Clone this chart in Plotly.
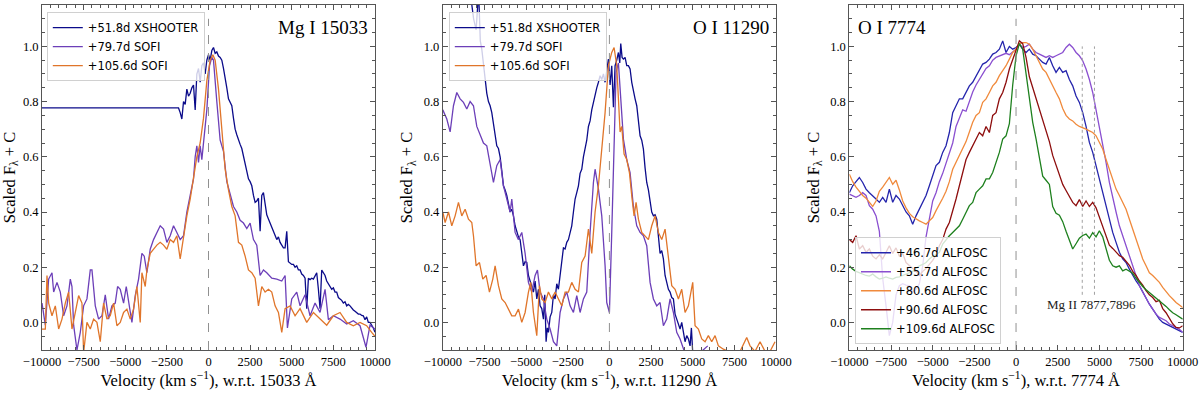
import plotly.graph_objects as go

# ---- Panel 1: Mg I 15033 ----
mg_xsh_v = [-10000, -1800, -1700, -1600, -1500, -1400, -1300, -1200, -1100, -1000, -900, -800, -700, -600, -500,
            -400, -300, -200, -100, 0, 100, 200, 300, 400, 500, 600, 700, 800, 900, 1000, 1100, 1200, 1300, 1400,
            1500, 1600, 1700, 1800, 1900, 2000, 2100, 2200, 2300, 2400, 2500, 2600, 2700, 2800, 2900, 3000, 3100,
            3200, 3300, 3400, 3500, 3600, 3700, 3800, 3900, 4000, 4100, 4200, 4300, 4400, 4500, 4600, 4700, 4800,
            4900, 5000, 5100, 5200, 5300, 5400, 5500, 5600, 5700, 5800, 5900, 6000, 6100, 6200, 6300, 6400, 6500,
            6600, 6700, 6800, 6900, 7000, 7100, 7200, 7300, 7400, 7500, 7600, 7700, 7800, 7900, 8000, 8100, 8200,
            8300, 8400, 8500, 8600, 8700, 8800, 8900, 9000, 9100, 9200, 9300, 9400, 9500, 9600, 9700, 9800, 9900,
            10000]
mg_xsh_f = [0.777, 0.777, 0.76, 0.737, 0.80, 0.79, 0.845, 0.82, 0.83, 0.85, 0.86, 0.77, 0.90, 0.92, 0.87,
            0.93, 0.94, 0.90, 0.95, 0.97, 0.95, 0.985, 0.996, 0.975, 0.98, 0.965, 0.96, 0.95, 0.92, 0.89, 0.85, 0.81,
            0.80, 0.785, 0.74, 0.70, 0.68, 0.66, 0.645, 0.63, 0.60, 0.57, 0.545, 0.52, 0.51, 0.495, 0.46, 0.435,
            0.44, 0.45, 0.33, 0.46, 0.47, 0.43, 0.39, 0.375, 0.36, 0.345, 0.33, 0.315, 0.30, 0.31, 0.29, 0.28,
            0.27, 0.27, 0.33, 0.22, 0.215, 0.21, 0.21, 0.20, 0.205, 0.19, 0.19, 0.175, 0.17, 0.16, 0.05, 0.16,
            0.155, 0.16, 0.157, 0.17, 0.18, 0.12, 0.05, 0.19, 0.18, 0.17, 0.15, 0.14, 0.13, 0.12, 0.125, 0.11,
            0.11, 0.09, 0.085, 0.08, 0.07, 0.075, 0.06, 0.065, 0.06, 0.05, 0.045, 0.04, 0.036, 0.03, 0.03, 0.025,
            0.024, 0.01, 0.02, 0.0, 0.0, -0.01, -0.02, -0.036]

mg_s79_v = [-10000, -9800, -9600, -9400, -9300, -9100, -8900, -8700, -8500, -8300, -8200, -8100, -7900, -7700,
            -7500, -7300, -7100, -7000, -6800, -6600, -6400, -6200, -6000, -5800, -5600, -5460, -5300, -5100,
            -4940, -4800, -4600, -4400, -4200, -4000, -3860, -3700, -3500, -3300, -3100, -2900, -2700, -2500,
            -2300, -2100, -1900, -1700, -1500, -1300, -1100, -900, -800, -700, -600, -500, -400, -300, -100, 60,
            200, 300, 400, 500, 700, 900, 1100, 1300, 1500, 1700, 1900, 2100, 2300, 2500, 2700, 2900, 3100, 3300,
            3500, 3800, 4100, 4400, 4600, 4740, 5000, 5300, 5500, 5800, 6100, 6400, 6700, 7000, 7200, 7500, 7900,
            8300, 8700, 9100, 9460, 9700, 10000]
mg_s79_f = [0.07, -0.01, 0.157, 0.18, 0.11, 0.145, 0.11, 0.024, 0.06, 0.157, 0.13, -0.01, -0.10, -0.036,
            0.06, 0.085, 0.19, 0.19, 0.06, 0.012, 0.024, 0.10, 0.012, 0.06, 0.07, 0.13, 0.12, 0.07,
            0.13, 0.07, 0.0, 0.097, 0.157, 0.25, 0.24, 0.18, 0.265, 0.30, 0.326, 0.35, 0.338, 0.29,
            0.314, 0.35, 0.326, 0.30, 0.314, 0.40, 0.46, 0.52, 0.60, 0.64, 0.58, 0.64, 0.59, 0.65, 0.77, 0.93,
            0.96, 0.95, 0.86, 0.80, 0.66, 0.62, 0.51, 0.46, 0.42, 0.40, 0.37, 0.36, 0.34, 0.36, 0.30, 0.28, 0.17, 0.19,
            0.18, 0.16, 0.157, 0.15, 0.17, -0.02, 0.085, 0.11, 0.06, 0.10, 0.024, 0.07, 0.036, 0.12, 0.01, 0.024, 0.012,
            -0.006, 0.006, -0.012, -0.09, -0.01, -0.024]

mg_s105_v = [-10000, -9800, -9700, -9600, -9400, -9200, -9000, -8800, -8600, -8400, -8200, -8000, -7800, -7600,
             -7500, -7300, -7100, -6900, -6700, -6500, -6300, -6100, -5900, -5700, -5500, -5300, -5100, -4900,
             -4700, -4500, -4300, -4100, -4000, -3800, -3700, -3500, -3300, -3100, -2900, -2700, -2500, -2300,
             -2100, -1900, -1700, -1500, -1300, -1100, -900, -700, -500, -300, -100, 100, 260, 400, 600, 800,
             1000, 1200, 1400, 1600, 1800, 2000, 2200, 2400, 2600, 2800, 3000, 3200, 3400, 3600, 3800, 4000, 4200,
             4400, 4600, 4900, 5200, 5500, 5900, 6300, 6700, 7100, 7500, 7900, 8300, 8700, 9100, 9500, 9800, 10000]
mg_s105_f = [-0.024, -0.024, 0.17, 0.07, 0.024, 0.06, -0.024, 0.012, 0.07, 0.11, -0.024, 0.036, 0.097, 0.07,
             -0.11, 0.0, -0.024, 0.012, 0.0, -0.07, 0.07, 0.012, 0.024, 0.07, -0.012, 0.0, 0.036, 0.048,
             0.012, 0.048, 0.13, 0.0, 0.18, 0.13, 0.19, 0.25, 0.265, 0.28, 0.29, 0.28, 0.265, 0.30,
             0.29, 0.314, 0.23, 0.314, 0.386, 0.447, 0.53, 0.60, 0.65, 0.74, 0.875, 0.95, 0.97, 0.95, 0.845, 0.69,
             0.555, 0.48, 0.42, 0.386, 0.29, 0.28, 0.24, 0.19, 0.18, 0.16, 0.06, 0.13, 0.11, 0.12, 0.11, 0.06, 0.036,
             -0.036, 0.05, 0.06, 0.024, 0.05, 0.0, 0.036, 0.012, -0.01, 0.024, 0.036, 0.0, -0.012, 0.0, -0.012, -0.036,
             -0.05]

# ---- Panel 2: O I 11290 ----
oi11_xsh_v = [-10000, -8300, -8150, -8000, -7850, -7750, -7660, -7560, -7460, -7360, -7260, -7160, -7060, -6960,
              -6860, -6760, -6660, -6560, -6460, -6360, -6260, -6160, -6060, -5960, -5860, -5760, -5660, -5560,
              -5460, -5360, -5260, -5160, -5060, -4960, -4860, -4760, -4660, -4560, -4460, -4360, -4260, -4160,
              -4060, -3960, -3880, -3800, -3730, -3660, -3560, -3460, -3360, -3260, -3160, -3060, -2960, -2860,
              -2760, -2660, -2560, -2460, -2360, -2260, -2160, -2060, -1960, -1860, -1760, -1660, -1560, -1460,
              -1360, -1260, -1160, -1060, -960, -860, -760, -660, -560, -460, -360, -260, -160, -60, 40, 140, 240,
              340, 440, 540, 620, 680, 760, 840, 940, 1040, 1140, 1240, 1340, 1440, 1540, 1640, 1740, 1840, 1940,
              2040, 2140, 2240, 2340, 2440, 2540, 2640, 2740, 2840, 2940, 3040, 3140, 3240, 3340, 3440, 3540, 3640,
              3740, 3840, 3940, 4040, 4140, 4240, 4340, 4440, 4540, 4640, 4740, 4840, 4920, 5000]
oi11_xsh_f = [1.60, 1.17, 1.10, 1.06, 1.20, 1.02, 0.99, 0.93, 0.88, 0.83, 0.80, 0.785, 0.76, 0.725,
              0.69, 0.64, 0.63, 0.60, 0.55, 0.495, 0.48, 0.46, 0.43, 0.40, 0.41, 0.386, 0.35, 0.326,
              0.31, 0.30, 0.24, 0.205, 0.22, 0.217, 0.17, 0.145, 0.13, 0.11, 0.15, 0.085, 0.12, 0.06,
              0.05, 0.012, 0.10, -0.07, -0.02, -0.036, 0.02, 0.036, 0.10, 0.085, 0.14, 0.12, 0.17, 0.205,
              0.27, 0.266, 0.29, 0.30, 0.33, 0.35, 0.40, 0.447, 0.47, 0.495, 0.54, 0.555, 0.60, 0.628,
              0.66, 0.71, 0.73, 0.77, 0.80, 0.82, 0.85, 0.87, 0.894, 0.88, 0.90, 0.87, 0.92, 0.954, 0.86, 0.93, 0.78,
              0.93, 0.95, 0.978, 0.94, 1.01, 0.96, 0.954, 0.96, 0.93, 0.93, 0.918, 0.87, 0.833, 0.81, 0.785, 0.72,
              0.676, 0.66, 0.628, 0.56, 0.507, 0.48, 0.447, 0.40, 0.386, 0.39, 0.374, 0.30, 0.25, 0.26, 0.23, 0.17,
              0.145, 0.12, 0.11, 0.09, 0.085, 0.03, 0.012, -0.01, -0.024, 0.0, -0.036, -0.07, -0.048, -0.06, -0.085,
              -0.02, -0.11]

oi11_s79_v = [-10000, -9760, -9560, -9360, -9160, -8960, -8760, -8560, -8360, -8160, -7960, -7760, -7560, -7360,
              -7160, -6960, -6760, -6560, -6360, -6160, -5960, -5860, -5660, -5460, -5260, -5060, -4860, -4660,
              -4460, -4320, -4160, -3960, -3760, -3560, -3360, -3160, -2960, -2760, -2560, -2360, -2160, -1960,
              -1760, -1560, -1360, -1160, -960, -860, -660, -460, -260, -160, 0, 140, 280, 400, 540, 680, 840,
              1040, 1240, 1440, 1640, 1840, 2040, 2240, 2440, 2640, 2840, 3040, 3240, 3440, 3640, 3840, 4040,
              4240, 4440, 4640, 5440, 5700, 5900]
oi11_s79_f = [0.77, 0.737, 0.69, 0.785, 0.833, 0.81, 0.797, 0.773, 0.80, 0.785, 0.71, 0.676, 0.65, 0.64,
              0.58, 0.507, 0.568, 0.59, 0.495, 0.447, 0.40, 0.447, 0.326, 0.30, 0.326, 0.25, 0.145, 0.11,
              0.17, 0.19, 0.11, 0.085, 0.012, -0.024, -0.07, -0.085, 0.036, 0.085, 0.11, 0.06, 0.036, 0.097,
              0.036, 0.085, 0.11, 0.326, 0.507, 0.555, 0.483, 0.386, 0.205, 0.072, 0.036, 0.326, 0.69, 0.906,
              0.94, 0.81, 0.664, 0.59, 0.543, 0.42, 0.35, 0.326, 0.314, 0.278, 0.145, 0.085, 0.06, 0.072, -0.012,
              0.012, 0.085, 0.036, -0.036, -0.06, -0.097, -0.13, -0.11, -0.095, -0.085]

oi11_s105_v = [-10000, -9860, -9660, -9460, -9260, -9060, -8860, -8660, -8460, -8260, -8160, -8000, -7800, -7600,
               -7400, -7200, -7000, -6860, -6660, -6460, -6260, -6060, -5860, -5660, -5460, -5260, -5060, -4860,
               -4720, -4560, -4360, -4200, -4060, -3860, -3660, -3460, -3260, -3060, -2860, -2660, -2460, -2260,
               -2060, -1860, -1660, -1460, -1260, -1060, -860, -660, -460, -260, -60, 140, 280, 440, 540, 640, 740,
               880, 1040, 1200, 1360, 1480, 1600, 1740, 1940, 2140, 2340, 2540, 2740, 2940, 3140, 3340, 3540, 3740,
               3940, 4140, 4340, 4540, 4740, 5000, 5140, 5340, 5540, 5740, 5940, 6140, 6340, 6540, 6840, 7140, 7440,
               7840, 8240, 8440, 8740, 9040, 9340, 9640, 9940]
oi11_s105_f = [0.40, 0.362, 0.40, 0.35, 0.386, 0.435, 0.386, 0.41, 0.374, 0.362, 0.314, 0.205, 0.217, 0.157,
               0.17, 0.11, 0.157, 0.205, 0.133, 0.085, 0.072, 0.048, 0.024, 0.024, 0.048, 0.0, 0.036, 0.11,
               0.145, 0.036, -0.048, 0.133, 0.085, 0.072, 0.11, 0.085, 0.11, 0.085, 0.06, 0.11, 0.11, 0.145,
               0.12, 0.11, 0.217, 0.24, 0.338, 0.25, 0.40, 0.495, 0.628, 0.76, 0.93, 0.978, 0.996, 0.93, 0.81, 0.69,
               0.71, 0.61, 0.59, 0.543, 0.447, 0.386, 0.435, 0.374, 0.326, 0.314, 0.30, 0.35, 0.386, 0.326, 0.30,
               0.338, 0.23, 0.133, 0.12, 0.085, 0.12, 0.036, 0.06, 0.145, -0.012, -0.024, -0.06, -0.07, -0.048, -0.07,
               -0.048, -0.085, -0.097, -0.105, -0.105, -0.105, -0.055, -0.085, -0.105, -0.07, -0.105, -0.105, -0.07]

# ---- Panel 3: O I 7774 (common velocity grid) ----
oi7_v = [-10000, -9800, -9600, -9400, -9200, -9000, -8800, -8600, -8400, -8200, -8000, -7800, -7600, -7400, -7200,
         -7000, -6800, -6600, -6400, -6200, -6000, -5800, -5600, -5400, -5200, -5000, -4800, -4600, -4400, -4200,
         -4000, -3800, -3600, -3400, -3200, -3000, -2800, -2600, -2400, -2200, -2000, -1800, -1600, -1400, -1200,
         -1000, -800, -600, -400, -200, 0, 200, 400, 600, 800, 1000, 1200, 1400, 1600, 1800, 2000, 2200, 2400,
         2600, 2800, 3000, 3200, 3400, 3600, 3800, 4000, 4200, 4400, 4600, 4800, 5000, 5200, 5400, 5600, 5800,
         6000, 6200, 6400, 6600, 6800, 7000, 7200, 7400, 7600, 7800, 8000, 8200, 8400, 8600, 8800, 9000, 9200,
         9400, 9600, 9800, 10000]
oi7_a46 = [0.47, 0.495, 0.51, 0.525, 0.507, 0.483, 0.47, 0.46, 0.447, 0.435, 0.453, 0.435, 0.483, 0.435, 0.46,
           0.447, 0.423, 0.40, 0.386, 0.356, 0.386, 0.41, 0.435, 0.46, 0.495, 0.531, 0.568, 0.58, 0.616, 0.64,
           0.688, 0.76, 0.785, 0.81, 0.81, 0.833, 0.857, 0.87, 0.894, 0.918, 0.936, 0.942, 0.954, 0.972, 0.978,
           0.99, 1.02, 0.978, 1.0, 0.99, 0.996, 1.008, 0.99, 0.978, 0.99, 0.972, 0.966, 0.954, 0.942, 0.936, 0.96,
           0.93, 0.906, 0.924, 0.906, 0.912, 0.88, 0.857, 0.82, 0.797, 0.76, 0.71, 0.652, 0.616, 0.568, 0.52, 0.47,
           0.423, 0.374, 0.326, 0.29, 0.254, 0.23, 0.217, 0.193, 0.17, 0.15, 0.133, 0.11, 0.085, 0.066, 0.048, 0.03,
           0.012, 0.0, -0.006, -0.012, -0.018, -0.024, -0.03, -0.036]
oi7_a55 = [0.465, 0.46, 0.453, 0.46, 0.47, 0.46, 0.423, 0.41, 0.386, 0.33, 0.16, 0.06, -0.048, 0.0, 0.10,
           0.133, 0.14, 0.135, 0.133, 0.11, 0.12, 0.14, 0.205, 0.31, 0.38, 0.44, 0.47, 0.51, 0.54, 0.575,
           0.61, 0.65, 0.71, 0.74, 0.77, 0.765, 0.80, 0.835, 0.86, 0.88, 0.90, 0.92, 0.93, 0.95, 0.96,
           0.965, 0.97, 0.975, 0.97, 0.98, 0.99, 1.008, 0.996, 1.0, 1.008, 0.99, 0.978, 0.972, 0.966, 0.96, 0.966,
           0.96, 0.966, 0.972, 0.978, 0.996, 1.008, 0.996, 0.978, 0.966, 0.948, 0.918, 0.88, 0.833, 0.773, 0.70,
           0.64, 0.58, 0.507, 0.447, 0.40, 0.35, 0.314, 0.278, 0.24, 0.205, 0.17, 0.133, 0.11, 0.085, 0.066, 0.048,
           0.03, 0.018, 0.012, 0.006, -0.006, -0.012, -0.018, -0.025, -0.036]
oi7_a80 = [0.537, 0.51, 0.49, 0.475, 0.46, 0.45, 0.437, 0.42, 0.44, 0.475, 0.49, 0.51, 0.525, 0.50, 0.515,
           0.48, 0.44, 0.415, 0.395, 0.383, 0.374, 0.368, 0.362, 0.356, 0.368, 0.38, 0.405, 0.425, 0.45, 0.475,
           0.51, 0.555, 0.58, 0.604, 0.628, 0.655, 0.69, 0.725, 0.75, 0.76, 0.797, 0.81, 0.833, 0.857, 0.87,
           0.894, 0.912, 0.93, 0.954, 0.978, 0.99, 1.01, 1.014, 1.014, 1.008, 0.99, 0.966, 0.942, 0.918, 0.906, 0.88,
           0.857, 0.833, 0.81, 0.775, 0.75, 0.737, 0.73, 0.718, 0.71, 0.706, 0.70, 0.694, 0.688, 0.676, 0.652,
           0.628, 0.59, 0.555, 0.52, 0.483, 0.46, 0.435, 0.41, 0.374, 0.338, 0.30, 0.266, 0.23, 0.205, 0.18, 0.17,
           0.157, 0.145, 0.127, 0.11, 0.097, 0.085, 0.072, 0.063, 0.054]
oi7_a90 = [0.30, 0.29, 0.314, 0.266, 0.278, 0.254, 0.266, 0.24, 0.23, 0.245, 0.23, 0.254, 0.278, 0.25, 0.27,
           0.24, 0.25, 0.217, 0.205, 0.195, 0.185, 0.17, 0.185, 0.195, 0.21, 0.225, 0.245, 0.278, 0.30, 0.338,
           0.362, 0.40, 0.447, 0.495, 0.543, 0.59, 0.616, 0.64, 0.664, 0.688, 0.676, 0.71, 0.688, 0.75, 0.76,
           0.81, 0.833, 0.87, 0.918, 0.954, 0.99, 1.02, 1.01, 0.96, 0.89, 0.85, 0.81, 0.775, 0.73, 0.69, 0.655,
           0.605, 0.57, 0.535, 0.50, 0.478, 0.455, 0.435, 0.423, 0.445, 0.42, 0.44, 0.42, 0.435, 0.415, 0.38,
           0.345, 0.31, 0.28, 0.268, 0.256, 0.242, 0.236, 0.22, 0.207, 0.185, 0.17, 0.15, 0.135, 0.115, 0.10, 0.09,
           0.075, 0.08, 0.05, 0.035, 0.015, -0.005, -0.018, -0.02, -0.012]
oi7_a109 = [0.205, 0.193, 0.185, 0.18, 0.175, 0.17, 0.168, 0.175, 0.165, 0.157, 0.16, 0.165, 0.16, 0.157, 0.163,
            0.165, 0.17, 0.175, 0.18, 0.185, 0.195, 0.205, 0.21, 0.217, 0.23, 0.24, 0.245, 0.254, 0.284, 0.30,
            0.314, 0.326, 0.338, 0.35, 0.374, 0.40, 0.423, 0.435, 0.47, 0.483, 0.495, 0.52, 0.52, 0.543, 0.58,
            0.616, 0.664, 0.676, 0.72, 0.86, 0.966, 1.01, 0.99, 0.90, 0.80, 0.725, 0.665, 0.595, 0.53, 0.515, 0.50,
            0.42, 0.395, 0.388, 0.365, 0.33, 0.295, 0.266, 0.285, 0.305, 0.315, 0.32, 0.305, 0.325, 0.31, 0.332,
            0.31, 0.268, 0.225, 0.205, 0.20, 0.205, 0.187, 0.193, 0.186, 0.178, 0.16, 0.143, 0.13, 0.118, 0.108,
            0.097, 0.088, 0.078, 0.07, 0.058, 0.046, 0.035, 0.028, 0.02, 0.012]

mg2_lines = [3972, 4705]

serif = "Liberation Serif"
sans = "DejaVu Sans"

panels = [
    ("x", "y", "legend", [
        ("+51.8d XSHOOTER", mg_xsh_v, mg_xsh_f, "#0b0b8a"),
        ("+79.7d SOFI", mg_s79_v, mg_s79_f, "#6c3fb8"),
        ("+105.6d SOFI", mg_s105_v, mg_s105_f, "#e0752a"),
    ]),
    ("x2", "y2", "legend2", [
        ("+51.8d XSHOOTER", oi11_xsh_v, oi11_xsh_f, "#0b0b8a"),
        ("+79.7d SOFI", oi11_s79_v, oi11_s79_f, "#6c3fb8"),
        ("+105.6d SOFI", oi11_s105_v, oi11_s105_f, "#e0752a"),
    ]),
    ("x3", "y3", "legend3", [
        ("+46.7d ALFOSC", oi7_v, oi7_a46, "#2424ac"),
        ("+55.7d ALFOSC", oi7_v, oi7_a55, "#8a4fd0"),
        ("+80.6d ALFOSC", oi7_v, oi7_a80, "#f08a3c"),
        ("+90.6d ALFOSC", oi7_v, oi7_a90, "#8e0e0e"),
        ("+109.6d ALFOSC", oi7_v, oi7_a109, "#1e801e"),
    ]),
]

fig = go.Figure()

for xa, ya, leg, series in panels:
    for name, v, f, col in series:
        fig.add_trace(go.Scatter(x=v, y=f, mode="lines", name=name, legend=leg,
                                 xaxis=xa, yaxis=ya, line=dict(color=col, width=1.3)))
    # zero-velocity marker
    fig.add_shape(type="line", xref=xa, yref=ya, x0=0, x1=0, y0=-0.1, y1=1.1,
                  line=dict(color="#909090", width=1, dash="dash"))

for v in mg2_lines:
    fig.add_shape(type="line", xref="x3", yref="y3", x0=v, x1=v, y0=0.1, y1=1.0,
                  line=dict(color="#a0a0a0", width=1, dash="dot"))

fig.add_annotation(x=4500, y=0.065, xref="x3", yref="y3", text="Mg II 7877,7896", showarrow=False,
                   font=dict(family=serif, size=13, color="#222"))

titles = [("Mg I 15033", "x domain", "y domain", 0.985, "right"),
          ("O I 11290", "x2 domain", "y2 domain", 0.985, "right"),
          ("O I 7774", "x3 domain", "y3 domain", 0.02, "left")]
for txt, xr, yr, xp, anc in titles:
    fig.add_annotation(x=xp, y=0.936, xref=xr, yref=yr, text=txt, showarrow=False,
                       xanchor=anc, yanchor="middle", font=dict(family=serif, size=19, color="black"))

doms = [[0.035, 0.3125], [0.369, 0.6467], [0.7078, 0.9856]]
refs = ["15033", "11290", "7774"]
axis_common = dict(showline=True, linecolor="#555", linewidth=1, mirror="allticks", ticks="inside",
                   ticklen=5, tickcolor="#555", showgrid=False, zeroline=False, automargin=False,
                   tickfont=dict(family=serif, size=12.5, color="black"))
layout = {}
for i in range(3):
    sfx = "" if i == 0 else str(i + 1)
    layout["xaxis" + sfx] = dict(axis_common, domain=doms[i], anchor="y" + sfx, range=[-10000, 10000],
                                 dtick=2500, tick0=0, tickformat="d",
                                 minor=dict(ticks="inside", ticklen=3, dtick=500, tickcolor="#555"),
                                 title=dict(text="Velocity (km s<sup>−1</sup>), w.r.t. " + refs[i] + " Å",
                                            font=dict(family=serif, size=16.5, color="black"), standoff=6))
    layout["yaxis" + sfx] = dict(axis_common, domain=[0.1094, 0.9873], anchor="x" + sfx, range=[-0.1, 1.15],
                                 dtick=0.2, tick0=0, tickformat=".1f",
                                 minor=dict(ticks="inside", ticklen=3, dtick=0.05, tickcolor="#555"),
                                 title=dict(text="Scaled F<sub>λ</sub> + C",
                                            font=dict(family=serif, size=16.5, color="black"), standoff=6))

leg_common = dict(bgcolor="rgba(255,255,255,0.8)", bordercolor="#d0d0d0", borderwidth=1,
                  font=dict(family=sans, size=11.5, color="black"), xanchor="left", yanchor="top",
                  tracegroupgap=0, itemwidth=30)
layout["legend"] = dict(leg_common, x=0.039, y=0.969)
layout["legend2"] = dict(leg_common, x=0.374, y=0.969)
layout["legend3"] = dict(leg_common, x=0.7125, y=0.124, yanchor="bottom")

fig.update_layout(layout)
fig.update_layout(width=1200, height=393, margin=dict(l=0, r=0, t=0, b=0),
                  plot_bgcolor="white", paper_bgcolor="white", showlegend=True)

fig.write_html("out.html", config={"displayModeBar": False},
               post_script="document.body.style.margin='0';")
